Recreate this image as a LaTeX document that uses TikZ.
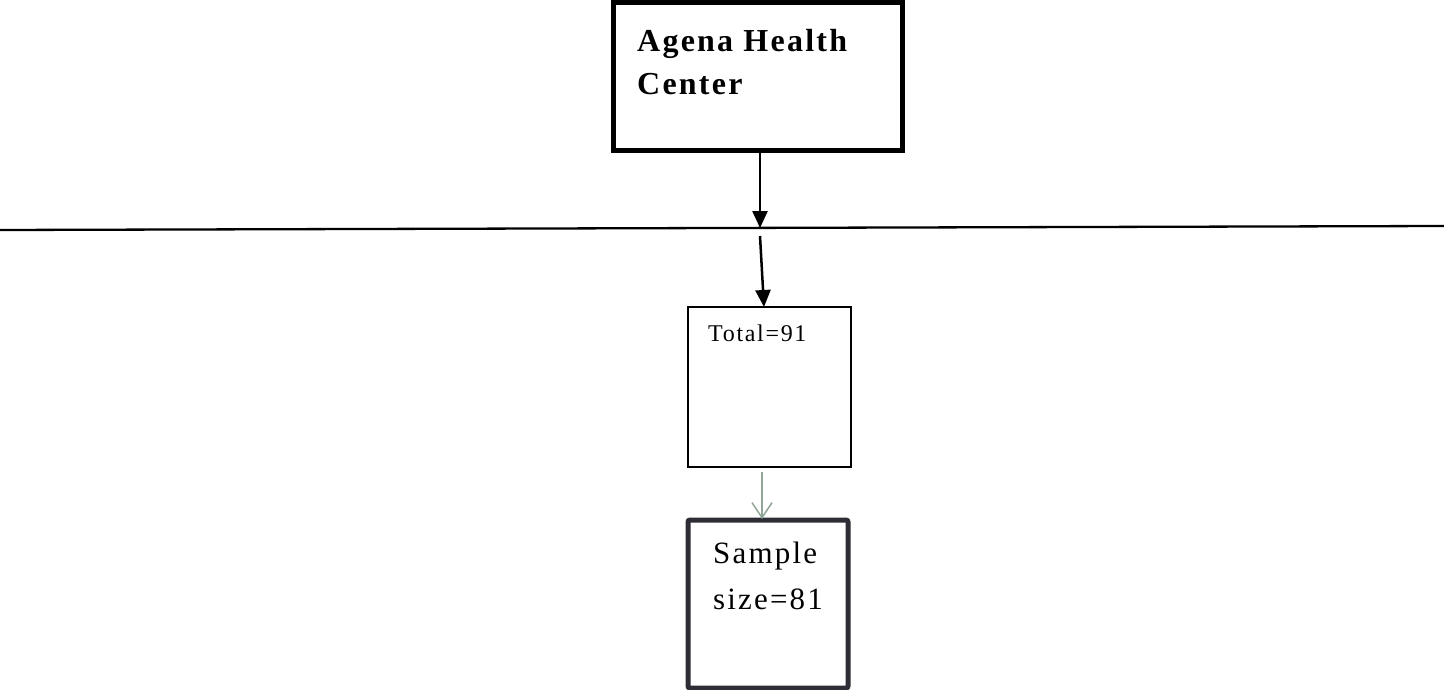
\documentclass[tikz,border=0pt]{standalone}
\usepackage{fontspec}
\setmainfont{Liberation Serif}
\newfontfamily\spaced[LetterSpace=7]{Liberation Serif}
\usetikzlibrary{arrows.meta}
\definecolor{grayarrow}{HTML}{8FA596}
\definecolor{darkbox}{HTML}{2D2D35}
\tikzset{
  thickbox/.style={draw=black, line width=5pt, inner sep=0pt},
  thinbox/.style={draw=black, line width=1.6pt, inner sep=0pt},
  darkthickbox/.style={draw=darkbox, line width=5pt, rounded corners=2pt, inner sep=0pt},
  txt/.style={anchor=base west, inner sep=0pt},
  blackarrow/.style={line width=2.5pt, -{Triangle[length=17pt,width=15pt]}},
  grayarr/.style={draw=grayarrow, line width=1.5pt, -{Straight Barb[length=15pt,width=20pt,line width=1.5pt]}}
}
\begin{document}
\begin{tikzpicture}[x=1pt,y=-1pt]
\useasboundingbox (0,0) rectangle (1444,690);
% boxes
\node[thickbox, minimum width=289pt, minimum height=148pt] (agena) at (757.5,77) {};
\node[thinbox, minimum width=163pt, minimum height=160pt] (total) at (769.5,387) {};
\node[darkthickbox, minimum width=160pt, minimum height=168pt] (sample) at (768,604) {};
% texts
\node[txt] (t1) at (637,52) {\spaced\fontsize{32}{38}\selectfont\bfseries Agena Health};
\node[txt] (t2) at (637,95) {\spaced\fontsize{32}{38}\selectfont\bfseries Center};
\node[txt] (t3) at (708,341) {\spaced\fontsize{24}{28}\selectfont Total=91};
\node[txt] (t4) at (713,563) {\spaced\fontsize{31}{36}\selectfont Sample};
\node[txt] (t5) at (713,609) {\spaced\fontsize{31}{36}\selectfont size=81};
% horizontal line
\coordinate (L) at (0,230);
\coordinate (R) at (1444,226);
\draw[line width=2.3pt] (L) -- (R);
% arrows
\coordinate (a1s) at (760,151);
\coordinate (a1e) at (760,228);
\draw[blackarrow] (a1s) -- (a1e);
\coordinate (a2s) at (760,236);
\coordinate (a2e) at (764,307);
\draw[blackarrow] (a2s) -- (a2e);
\coordinate (a3s) at (762,472);
\coordinate (a3e) at (762,519);
\draw[grayarr] (a3s) -- (a3e);
\end{tikzpicture}
\end{document}
